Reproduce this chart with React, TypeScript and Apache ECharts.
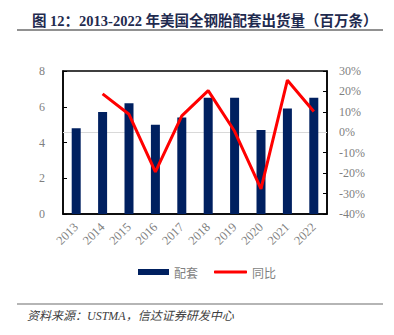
import React, { useEffect, useRef } from "react";
import * as echarts from "echarts";

const years = ["2013", "2014", "2015", "2016", "2017", "2018", "2019", "2020", "2021", "2022"];
const supply = [4.8, 5.7, 6.2, 5.0, 5.4, 6.5, 6.5, 4.7, 5.9, 6.5];
const yoy = [null, 18.8, 8.8, -19.4, 8.0, 20.4, 0.5, -27.7, 25.5, 10.2];
const titleText = "图 12：2013-2022 年美国全钢胎配套出货量（百万条）";
const sourceText = "资料来源：USTMA，信达证券研发中心";

export default function App() {
  const ref = useRef<HTMLDivElement>(null);
  useEffect(() => {
    document.body.style.margin = "0";
    const chart = echarts.init(ref.current!, null, { renderer: "svg" });
    const serif = "'Liberation Serif', 'Times New Roman', serif";
    const cjk = "'Noto Sans CJK SC', sans-serif";
    chart.setOption({
      animation: false,
      backgroundColor: "#ffffff",
      title: {
        text: titleText,
        left: 27,
        top: 9,
        textStyle: {
          fontFamily: "'Liberation Serif', 'Noto Sans CJK SC', serif",
          fontWeight: "bold",
          fontSize: 14.5,
          color: "#1f2b4f",
        },
      },
      graphic: [
        { type: "line", shape: { x1: 17, y1: 30, x2: 383, y2: 30 }, style: { stroke: "#6d6d6d", lineWidth: 1.5 } },
        { type: "line", shape: { x1: 17, y1: 304, x2: 383, y2: 304 }, style: { stroke: "#6d6d6d", lineWidth: 1.2 } },
        {
          type: "text",
          x: 27,
          y: 316,
          style: {
            text: sourceText,
            fontFamily: "'Liberation Serif', 'Noto Sans CJK SC', serif",
            fontStyle: "italic",
            fontSize: 12,
            fill: "#404040",
            textVerticalAlign: "middle",
          },
        },
      ],
      legend: [
        {
          data: [{ name: "配套", icon: "rect" }],
          left: 133,
          top: 261,
          itemWidth: 31,
          itemHeight: 6,
          textStyle: { fontFamily: cjk, fontSize: 12, color: "#7f7f7f" },
        },
        {
          data: [{ name: "同比", icon: "roundRect" }],
          left: 209,
          top: 261,
          itemWidth: 33,
          itemHeight: 3,
          textStyle: { fontFamily: cjk, fontSize: 12, color: "#7f7f7f" },
        },
      ],
      grid: {
        left: 63,
        right: 67,
        top: 71,
        bottom: 121,
        show: true,
        borderColor: "#000000",
        borderWidth: 1.5,
      },
      xAxis: {
        type: "category",
        data: years,
        axisLine: { lineStyle: { color: "#000000", width: 1.5 } },
        axisTick: { inside: true, length: 4, lineStyle: { color: "#000000" } },
        axisLabel: {
          rotate: 45,
          margin: 11,
          fontFamily: serif,
          fontSize: 12.5,
          color: "#7f7f7f",
          interval: 0,
        },
      },
      yAxis: [
        {
          type: "value",
          min: 0,
          max: 8,
          interval: 2,
          axisLine: { show: true, lineStyle: { color: "#000000", width: 1.5 } },
          axisTick: { show: true, inside: true, length: 4, lineStyle: { color: "#000000" } },
          splitLine: { show: false },
          axisLabel: { margin: 18, fontFamily: serif, fontSize: 12, color: "#7f7f7f" },
        },
        {
          type: "value",
          min: -40,
          max: 30,
          interval: 10,
          position: "right",
          axisLine: { show: true, lineStyle: { color: "#000000", width: 1.5 } },
          axisTick: { show: true, inside: true, length: 4, lineStyle: { color: "#000000" } },
          splitLine: { show: false },
          axisLabel: { margin: 12, fontFamily: serif, fontSize: 12, color: "#7f7f7f", formatter: "{value}%" },
        },
      ],
      series: [
        {
          name: "配套",
          type: "bar",
          data: supply,
          barWidth: 9,
          itemStyle: { color: "#002060" },
        },
        {
          name: "同比",
          type: "line",
          yAxisIndex: 1,
          data: yoy,
          showSymbol: false,
          symbol: "none",
          lineStyle: { color: "#ff0000", width: 3 },
          itemStyle: { color: "#ff0000" },
          markLine: {
            silent: true,
            symbol: "none",
            label: { show: false },
            lineStyle: { color: "#d9d9d9", width: 1, type: "solid" },
            data: [{ yAxis: 0 }],
            z: 1,
          },
          z: 3,
        },
      ],
    });
    return () => chart.dispose();
  }, []);
  return <div ref={ref} style={{ width: 394, height: 335 }} />;
}
